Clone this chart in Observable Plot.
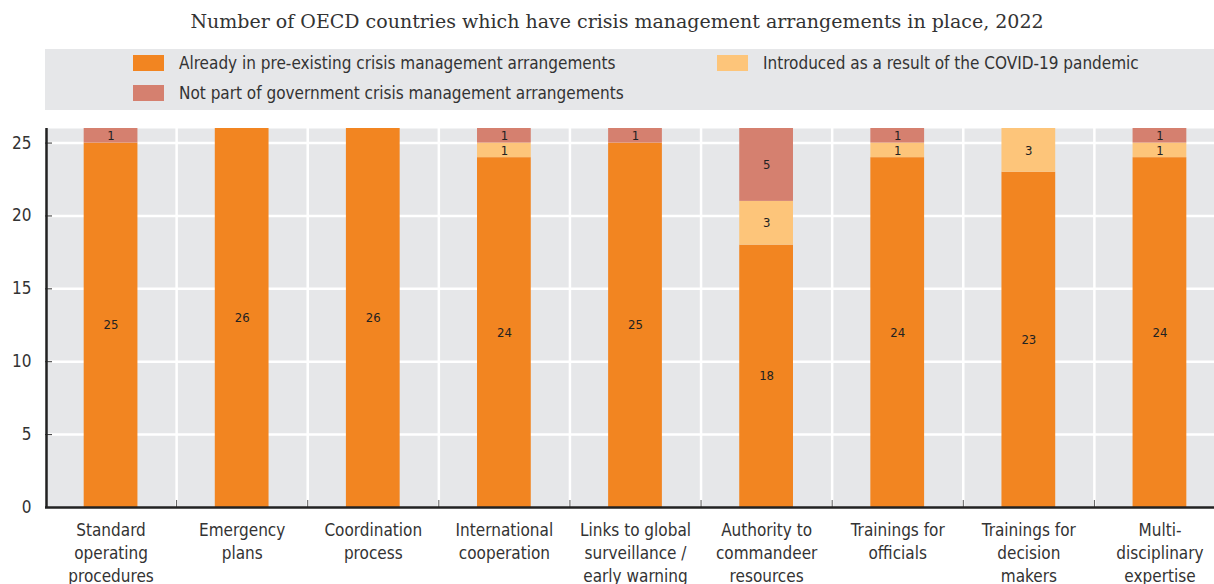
<!DOCTYPE html>
<html>
<head>
<meta charset="utf-8">
<script src="https://cdn.jsdelivr.net/npm/d3@7"></script>
<script src="https://cdn.jsdelivr.net/npm/@observablehq/plot@0.6"></script>
<style>
  body { margin: 0; background: #fff; width: 1214px; overflow: hidden; }
  #subtitle { height: 49px; line-height: 42px; text-align: center; padding-left: 20px; box-sizing: border-box;
    font-family: "DejaVu Serif", serif; font-size: 19px; color: #333; white-space: nowrap; }
  #legend { margin-left: 45px; width: 1169px; height: 61px; background: #e6e7e9; position: relative;
    font-family: "DejaVu Sans Condensed", "Roboto", sans-serif; font-size: 17px; color: #333; }
  .item { position: absolute; display: flex; align-items: center; height: 16px; }
  .sw { width: 31px; height: 16px; margin-right: 15px; }
  #chart { width: 1214px; overflow: hidden; }
  #chart svg { display: block; max-width: none !important; }
</style>
</head>
<body>
<div id="subtitle">Number of OECD countries which have crisis management arrangements in place, 2022</div>
<div id="legend"></div>
<div id="chart"></div>
<script>
const categories = [
  "Standard\noperating\nprocedures",
  "Emergency\nplans",
  "Coordination\nprocess",
  "International\ncooperation",
  "Links to global\nsurveillance /\nearly warning",
  "Authority to\ncommandeer\nresources",
  "Trainings for\nofficials",
  "Trainings for\ndecision\nmakers",
  "Multi-\ndisciplinary\nexpertise"
];
const seriesNames = [
  "Already in pre-existing crisis management arrangements",
  "Introduced as a result of the COVID-19 pandemic",
  "Not part of government crisis management arrangements"
];
const seriesColors = ["#f28521", "#fdc57a", "#d5806f"];
const preExisting = [25, 26, 26, 24, 25, 18, 24, 23, 24];
const covidIntroduced = [0, 0, 0, 1, 0, 3, 1, 3, 1];
const notPart = [1, 0, 0, 1, 1, 5, 1, 0, 1];
const yTicks = [0, 5, 10, 15, 20, 25];

// Legend
const legendPos = [[88, 6], [672, 6], [88, 36]];
const legend = document.getElementById("legend");
seriesNames.forEach((s, i) => {
  const it = document.createElement("div");
  it.className = "item";
  it.style.left = legendPos[i][0] + "px";
  it.style.top = legendPos[i][1] + "px";
  it.innerHTML = `<div class="sw" style="background:${seriesColors[i]}"></div><span>${s}</span>`;
  legend.appendChild(it);
});

const allSeries = [preExisting, covidIntroduced, notPart];
const data = [];
categories.forEach((c, i) => {
  allSeries.forEach((arr, j) => {
    if (arr[i] > 0) data.push({cat: c, series: seriesNames[j], value: arr[i], order: j});
  });
});

// the chart area runs slightly past the right edge of the window, as in the original
const W = 1225, ML = 45, MR = 0, MT = 18, MB = 78, H = 475;
const step = (W - ML - MR) / categories.length;
const yMax = 26;
const tickLen = 7 * yMax / (H - MT - MB);
const font = "'DejaVu Sans Condensed', Roboto, sans-serif";

const chart = Plot.plot({
  width: W, height: H,
  marginLeft: ML, marginRight: MR, marginTop: MT, marginBottom: MB,
  style: {fontFamily: font, fontSize: "17px", color: "#333", background: "white", maxWidth: "none"},
  x: {domain: categories, paddingInner: 0.59, paddingOuter: 0.295, round: false, label: null},
  y: {domain: [0, yMax], label: null},
  color: {domain: seriesNames, range: seriesColors},
  marks: [
    Plot.frame({fill: "#e6e7e9", stroke: null}),
    Plot.ruleY(yTicks.filter(d => d > 0), {stroke: "white", strokeWidth: 2.5}),
    Plot.ruleX(categories.slice(1), {x: d => d, dx: -step / 2, stroke: "white", strokeWidth: 2.5}),
    Plot.barY(data, {x: "cat", y: "value", fill: "series", order: seriesNames}),
    Plot.text(data, Plot.stackY({x: "cat", y: "value", z: "series", order: seriesNames, text: d => String(d.value),
      fill: "#222", fontSize: 13, fontFamily: font})),
    // y ticks inside
    Plot.ruleY(yTicks, {stroke: "#333", strokeWidth: 1, insetRight: W - ML - MR - 7}),
    // x boundary ticks
    Plot.ruleX(categories.slice(1), {x: d => d, dx: -step / 2, y1: 0, y2: tickLen, stroke: "#555", strokeWidth: 1}),
    // axis lines
    Plot.ruleX([categories[0]], {x: d => d, dx: -step / 2 + 1, y1: 0, y2: yMax, stroke: "#222", strokeWidth: 2.5}),
    Plot.ruleY([0], {stroke: "#222", strokeWidth: 2.5}),
    Plot.axisY({ticks: yTicks, tickSize: 0, tickPadding: 14, fontSize: 17, fill: "#333"}),
    Plot.axisX({tickSize: 0, tickPadding: 12, fontSize: 17, lineHeight: 1.35, fill: "#333"})
  ]
});
document.getElementById("chart").appendChild(chart);
</script>
</body>
</html>
